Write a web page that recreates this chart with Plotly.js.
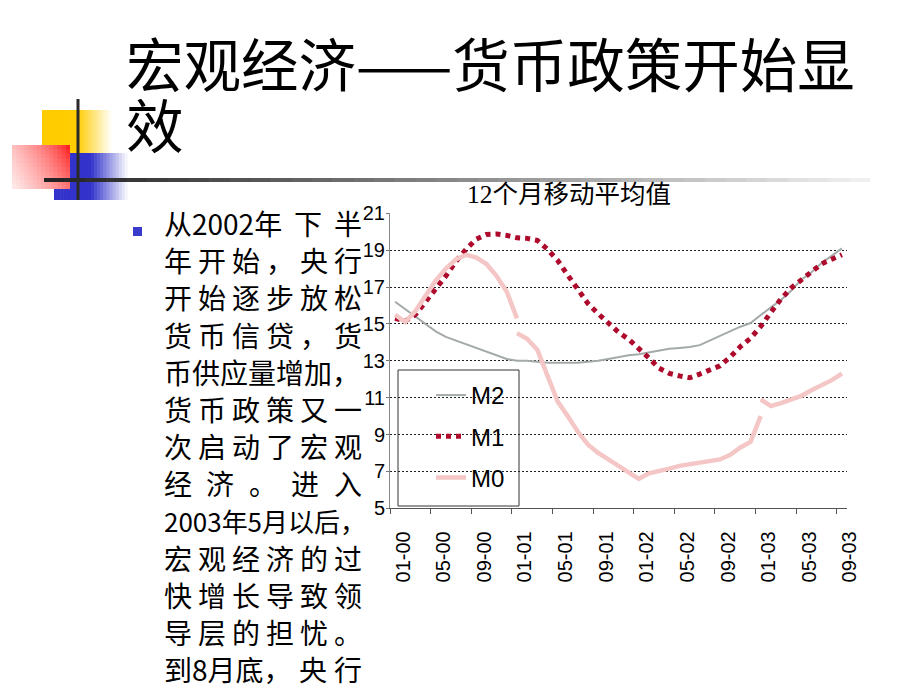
<!DOCTYPE html>
<html><head><meta charset="utf-8">
<script src="https://cdn.plot.ly/plotly-3.0.1.min.js"></script>
<style>html,body{margin:0;padding:0;background:#fff;overflow:hidden}#chart{width:920px;height:690px}</style>
</head><body><div id="chart"></div>
<script>
// ---- data ----
const months = ["01-00","02-00","03-00","04-00","05-00","06-00","07-00","08-00","09-00","10-00","11-00","12-00",
"01-01","02-01","03-01","04-01","05-01","06-01","07-01","08-01","09-01","10-01","11-01","12-01",
"01-02","02-02","03-02","04-02","05-02","06-02","07-02","08-02","09-02","10-02","11-02","12-02",
"01-03","02-03","03-03","04-03","05-03","06-03","07-03","08-03","09-03"];
const tickLabels = ["01-00","05-00","09-00","01-01","05-01","09-01","01-02","05-02","09-02","01-03","05-03","09-03"];
const m2 = [16.2,15.8,15.4,15.0,14.6,14.3,14.1,13.9,13.7,13.5,13.3,13.1,
13.0,13.0,12.95,12.9,12.9,12.9,12.9,12.95,13.0,13.1,13.2,13.3,
13.35,13.45,13.55,13.65,13.7,13.75,13.85,14.1,14.35,14.6,14.85,15.05,
15.5,15.9,16.3,16.8,17.4,17.8,18.3,18.7,19.1];
const m1 = [15.3,15.15,15.5,16.15,16.9,17.6,18.4,19.05,19.6,19.85,19.88,19.8,
19.67,19.64,19.53,19.05,18.45,17.65,16.85,16.1,15.55,15.05,14.55,14.17,
13.7,13.15,12.6,12.32,12.18,12.08,12.28,12.5,12.73,13.2,13.77,14.22,
14.86,15.62,16.35,16.95,17.4,17.88,18.26,18.51,18.75];
const m0Part1 = [15.5,15.1,15.7,16.5,17.35,18.0,18.5,18.75,18.6,18.25,17.6,16.75,15.3];
const m0Part2 = [14.5,14.2,13.6,12.2,10.8,10.0,9.15,8.45,8.0,7.65,7.3,7.0,6.6,6.9,7.0,7.15,7.3,7.4,7.5,7.55,7.65,7.9,8.3,8.6,10.0];
const m0Part3 = [10.9,10.55,10.7,10.9,11.1,11.4,11.65,11.95,12.3];
const m0Months1 = months.slice(0,13);
const m0Months2 = months.slice(12,37);
const m0Months3 = months.slice(36,45);
const seriesNames = ["M2","M1","M0"];
const chartTitle = "12个月移动平均值";
const slideTitle1 = "宏观经济——货币政策开始显";
const slideTitle2 = "效";
const bodyLines = [
 ["从2002年","下","半"],
 ["年","开","始","，","央","行"],
 ["开","始","逐","步","放","松"],
 ["货","币","信","贷","，","货"],
 ["币供应量增加，"],
 ["货","币","政","策","又","一"],
 ["次","启","动","了","宏","观"],
 ["经","济","。","进","入"],
 ["2003年5月以后，"],
 ["宏","观","经","济","的","过"],
 ["快","增","长","导","致","领"],
 ["导","层","的","担","忧","。"],
 ["到8月底，","央","行"]
];

// ---- helpers ----
const W=920,H=690;
const fx=p=>p/W, fy=p=>1-p/H;
const CJK='"Noto Sans CJK SC", sans-serif';
const SANS='"Liberation Sans", Arial, sans-serif';
function hex(c){return [parseInt(c.slice(1,3),16),parseInt(c.slice(3,5),16),parseInt(c.slice(5,7),16)];}
function mix(a,b,t){const A=hex(a),B=hex(b);return 'rgb('+A.map((v,i)=>Math.round(v+(B[i]-v)*t)).join(',')+')';}
const shapes=[];
function gradRect(x0,y0,x1,y1,nx,ny,colorAt,layer){
  for(let i=0;i<nx;i++)for(let j=0;j<ny;j++){
    const u=(i+0.5)/nx,v=(j+0.5)/ny;
    const a=x0+(x1-x0)*i/nx,b=x0+(x1-x0)*(i+1)/nx+(i<nx-1?0.6:0);
    const c=y0+(y1-y0)*j/ny,d=y0+(y1-y0)*(j+1)/ny+(j<ny-1?0.6:0);
    shapes.push({type:'rect',xref:'paper',yref:'paper',x0:fx(a),x1:fx(b),y0:fy(d),y1:fy(c),
      fillcolor:colorAt(u,v),line:{width:0},layer:layer||'above'});
  }
}
// decorative squares
gradRect(42,110,112,153,24,1,(u)=>mix('#FFCC00','#FFFFFF',Math.max(0,(u-0.5)/0.5)));
gradRect(54,153,128,200,24,1,(u)=>mix('#3333CC','#FFFFFF',Math.max(0,(u-0.5)/0.5)));
gradRect(12,145,70,189,14,10,(u,v)=>mix('#FF0000','#FFEDED',Math.min(1,Math.pow((1-u)*0.7+v*0.3,0.6))));
// horizontal rule with gradient
gradRect(44,178,870,182,40,1,(u)=>mix('#202020','#F2F2F2',u));
// vertical rule
shapes.push({type:'rect',xref:'paper',yref:'paper',x0:fx(76.5),x1:fx(79.5),y0:fy(200),y1:fy(99),fillcolor:'#2a2a2a',line:{width:0},layer:'above'});
// bullet
shapes.push({type:'rect',xref:'paper',yref:'paper',x0:fx(133),x1:fx(142),y0:fy(236),y1:fy(227),fillcolor:'#3a3acb',line:{width:0},layer:'above'});
// legend box
shapes.push({type:'rect',xref:'paper',yref:'paper',x0:fx(398),x1:fx(519),y0:fy(506),y1:fy(370),fillcolor:'#ffffff',line:{color:'#333333',width:1},layer:'between'});

const annotations=[];
annotations.push({xref:'paper',yref:'paper',x:fx(125),y:fy(62),xanchor:'left',yanchor:'middle',showarrow:false,borderpad:0,
  text:slideTitle1,font:{family:CJK,size:57.5,color:'#000'}});
annotations.push({xref:'paper',yref:'paper',x:fx(125),y:fy(123),xanchor:'left',yanchor:'middle',showarrow:false,borderpad:0,
  text:slideTitle2,font:{family:CJK,size:57.5,color:'#000'}});
annotations.push({xref:'paper',yref:'paper',x:fx(466),y:fy(194),xanchor:'left',yanchor:'middle',showarrow:false,borderpad:0,
  text:chartTitle,font:{family:'"Liberation Serif", "Noto Sans CJK SC", serif',size:25.5,color:'#000'}});

const ctx=document.createElement('canvas').getContext('2d');
function measure(t,s){ctx.font=s+'px "Noto Sans CJK SC"';return ctx.measureText(t).width;}
const L=163,R=361;
bodyLines.forEach((toks,k)=>{
  const yc=223+37.2*k;
  let size=28;
  if(toks.length===1){
    const w=measure(toks[0],28);
    if(w>R-L+4) size=28*(R-L+4)/w;
    annotations.push({xref:'paper',yref:'paper',x:fx(L),y:fy(yc),xanchor:'left',yanchor:'middle',showarrow:false,borderpad:0,
      text:toks[0],font:{family:CJK,size:size,color:'#000'}});
  } else {
    const ws=toks.map(t=>measure(t,28));
    const tot=ws.reduce((a,b)=>a+b,0);
    const gap=(R-L-tot)/(toks.length-1);
    let x=L;
    toks.forEach((t,i)=>{
      annotations.push({xref:'paper',yref:'paper',x:fx(x),y:fy(yc),xanchor:'left',yanchor:'middle',showarrow:false,borderpad:0,
        text:t,font:{family:CJK,size:28,color:'#000'}});
      x+=ws[i]+gap;
    });
  }
});

const traces=[
 {type:'scatter',mode:'lines',name:seriesNames[0],x:months,y:m2,legendgroup:'a',
  line:{color:'#a3aaa9',width:2}},
 {type:'scatter',mode:'lines',name:seriesNames[1],x:months,y:m1,legendgroup:'b',
  line:{color:'#ad0a2c',width:5,dash:'dot'}},
 {type:'scatter',mode:'lines',name:seriesNames[2],x:m0Months1,y:m0Part1,legendgroup:'c',
  line:{color:'#f4c6c6',width:4.5}},
 {type:'scatter',mode:'lines',name:seriesNames[2],x:m0Months2,y:m0Part2,legendgroup:'c',showlegend:false,
  line:{color:'#f4c6c6',width:4.5}},
 {type:'scatter',mode:'lines',name:seriesNames[2],x:m0Months3,y:m0Part3,legendgroup:'c',showlegend:false,
  line:{color:'#f4c6c6',width:4.5}}
];

const layout={
  width:W,height:H,autosize:false,margin:{l:0,r:0,t:0,b:0},
  paper_bgcolor:'#ffffff',plot_bgcolor:'rgba(0,0,0,0)',
  showlegend:true,
  legend:{x:fx(431),y:fy(373),xanchor:'left',yanchor:'top',bgcolor:'rgba(0,0,0,0)',borderwidth:0,
    font:{family:SANS,size:24,color:'#000'},tracegroupgap:7,traceorder:'grouped'},
  xaxis:{domain:[fx(390),fx(847)],type:'category',categoryorder:'array',categoryarray:months,
    range:[-0.5,44.5],tickmode:'array',tickvals:tickLabels,ticktext:tickLabels,tickson:'boundaries',
    tickangle:-90,ticks:'outside',ticklen:5,tickcolor:'#555',showline:true,linecolor:'#555',linewidth:1,
    showgrid:false,zeroline:false,tickfont:{family:SANS,size:20,color:'#000'},ticklabelstandoff:14,ticklabelshift:8,
    fixedrange:true},
  yaxis:{domain:[fy(508.3),fy(213.3)],range:[5,21],tickmode:'linear',tick0:5,dtick:2,
    ticks:'outside',ticklen:3,tickcolor:'#777',showline:true,linecolor:'#888',linewidth:1,
    showgrid:true,gridcolor:'#222',gridwidth:1,griddash:'2px,2px',zeroline:false,ticklabelstandoff:-3,
    tickfont:{family:SANS,size:20,color:'#000'},fixedrange:true},
  shapes:shapes,annotations:annotations
};
Plotly.newPlot('chart',traces,layout,{staticPlot:true,displayModeBar:false});
</script></body></html>
